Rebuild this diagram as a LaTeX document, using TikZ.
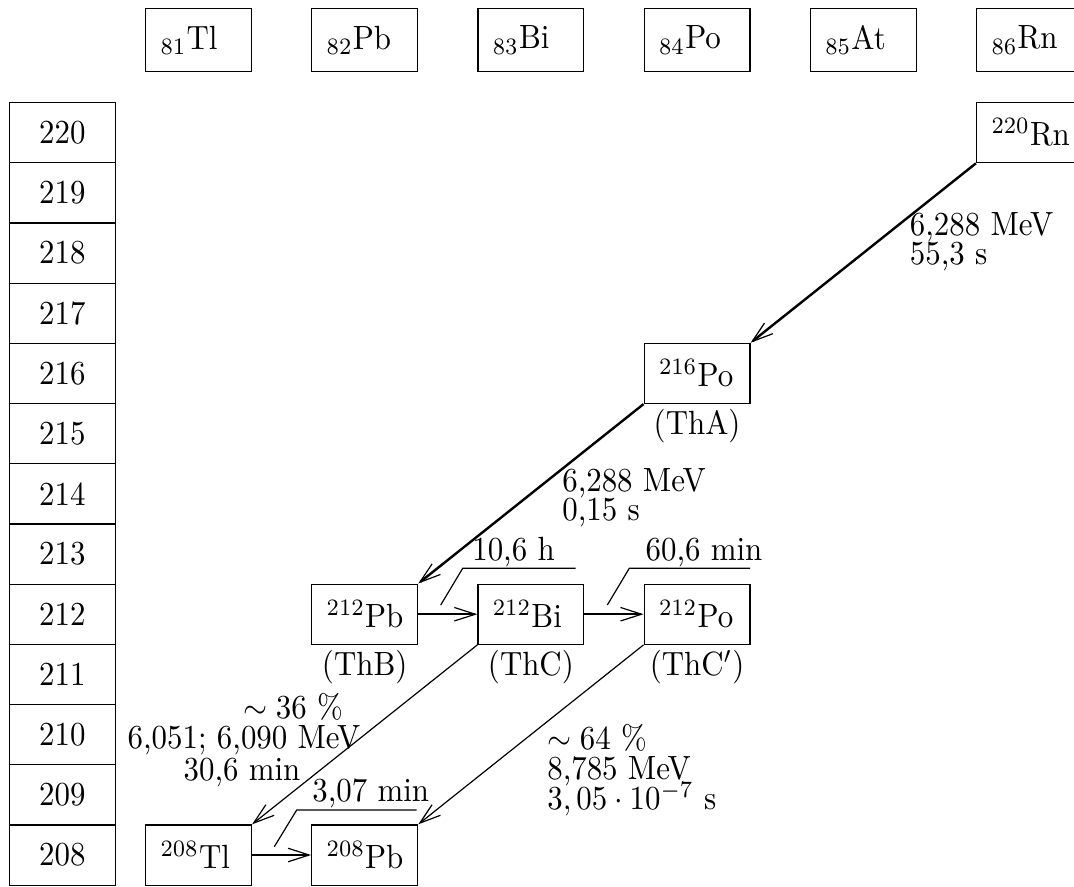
\documentclass[tikz,border=0pt]{standalone}
\usepackage{graphicx}
\usetikzlibrary{arrows.meta}
% slightly tall lettering
\newcommand\tx[1]{\scalebox{1.03}[1.12]{#1}}
\begin{document}
\begin{tikzpicture}[x=0.33333pt,y=-0.33333pt,
  box/.style={draw, line width=0.4pt, minimum width=35.33pt, minimum height=20.07pt, inner sep=0pt},
  rowbox/.style={box},
  hdr/.style={box, minimum height=20.9pt, text width=25.33pt, inner xsep=5pt, align=left},
  iso/.style={box, text width=25.33pt, inner xsep=5pt, align=left},
  nick/.style={anchor=north, inner sep=1.5pt},
  info/.style={inner sep=0pt, anchor=base west},
  infoc/.style={inner sep=0pt, anchor=base},
  heavy/.style={line width=0.8pt, -{Straight Barb[length=7pt,width=4.5pt,line width=0.4pt]}},
  light/.style={line width=0.4pt, -{Straight Barb[length=7pt,width=4.5pt]}},
  leader/.style={line width=0.4pt},
  half/.style={inner sep=0pt, anchor=base west}
]
\useasboundingbox (0,0) rectangle (1074,886);

% element columns
\node[hdr] (hTl) at (198.5,40) {\tx{$_{81}$Tl}};
\node[hdr] (hPb) at (364.7,40) {\tx{$_{82}$Pb}};
\node[hdr] (hBi) at (530.9,40) {\tx{$_{83}$Bi}};
\node[hdr] (hPo) at (697.1,40) {\tx{$_{84}$Po}};
\node[hdr] (hAt) at (863.3,40) {\tx{$_{85}$At}};
\node[hdr] (hRn) at (1029.5,40) {\tx{$_{86}$Rn}};

% mass number rows
\foreach \m [count=\i from 0] in {220,219,...,208}
  \node[rowbox] (r\m) at (62.35,132.6+60.2*\i) {\tx{\m}};

% nuclides
\node[iso] (rn220) at (hRn |- r220) {\tx{$^{220}$Rn}};
\node[iso] (po216) at (hPo |- r216) {\tx{$^{216}$Po}};
\node[iso] (pb212) at (hPb |- r212) {\tx{$^{212}$Pb}};
\node[iso] (bi212) at (hBi |- r212) {\tx{$^{212}$Bi}};
\node[iso] (po212) at (hPo |- r212) {\tx{$^{212}$Po}};
\node[iso] (tl208) at (hTl |- r208) {\tx{$^{208}$Tl}};
\node[iso] (pb208) at (hPb |- r208) {\tx{$^{208}$Pb}};

% historical names
\node[nick] (thA) at (po216.south) {\tx{(ThA)}};
\node[nick] (thB) at (pb212.south) {\tx{(ThB)}};
\node[nick] (thC) at (bi212.south) {\tx{(ThC)}};
\node[nick] (thCp) at (po212.south) {\tx{(ThC$'$)}};

% alpha decays
\draw[heavy] (rn220.south west) -- (po216.north east);
\draw[heavy] (po216.south west) -- (pb212.north east);
\draw[light] (bi212.south west) -- (tl208.north east);
\draw[light] (po212.south west) -- (pb208.north east);

% beta decays
\draw[heavy] (pb212.east) -- (bi212.west);
\draw[heavy] (bi212.east) -- (po212.west);
\draw[light] (tl208.east) -- (pb208.west);

% half-life leaders
\coordinate (a1) at (440.7,605);
\coordinate (b1) at (462.7,568.3);
\coordinate (c1) at (575.7,568.3);
\draw[leader] (a1) -- (b1) -- (c1);
\node[half] (t1) at (471.7,560.7) {\tx{10,6 h}};

\coordinate (a2) at (607.3,605);
\coordinate (b2) at (629.3,568.3);
\coordinate (c2) at (750,568.3);
\draw[leader] (a2) -- (b2) -- (c2);
\node[half] (t2) at (645,560.7) {\tx{60,6 min}};

\coordinate (a3) at (274.3,846.7);
\coordinate (b3) at (296.7,810);
\coordinate (c3) at (416.7,810);
\draw[leader] (a3) -- (b3) -- (c3);
\node[half] (t3) at (311.7,801.7) {\tx{3,07 min}};

% decay data, one node per line
\node[info] (d1a) at (909.3,235) {\tx{6,288 MeV}};
\node[info] (d1b) at (909.3,264) {\tx{55,3 s}};

\node[info] (d2a) at (561.7,491.7) {\tx{6,288 MeV}};
\node[info] (d2b) at (561.7,520) {\tx{0,15 s}};

\node[infoc] (d3a) at (293,718.3) {\tx{$\sim 36$ \%}};
\node[infoc] (d3b) at (244,748.3) {\tx{6,051; 6,090 MeV}};
\node[infoc] (d3c) at (242,780) {\tx{30,6 min}};

\node[info] (d4a) at (546.7,749.3) {\tx{$\sim 64$ \%}};
\node[info] (d4b) at (546.7,779.3) {\tx{8,785 MeV}};
\node[info] (d4c) at (546.7,809.3) {\tx{$3,05\cdot 10^{-7}$ s}};
\end{tikzpicture}
\end{document}
